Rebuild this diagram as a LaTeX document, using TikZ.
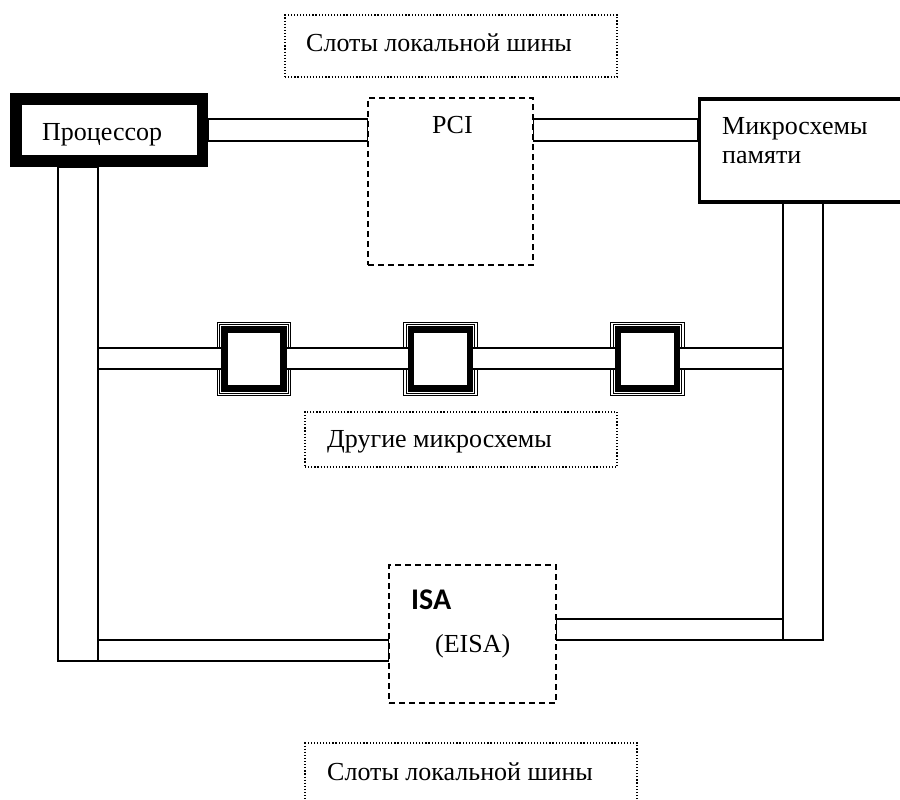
\documentclass[tikz,border=0pt]{standalone}
\usepackage{fontspec}
\setmainfont{Liberation Serif}
\newfontfamily\isafont{Carlito}

\begin{document}
\begin{tikzpicture}[x=1pt,y=-1pt,
        font=\fontsize{26}{31}\selectfont,
        bus/.style={draw,fill=white,line width=1.3pt,inner sep=0pt,outer sep=0pt},
        dashbox/.style={draw,dash pattern=on 6pt off 4pt,line width=1.5pt,inner sep=0pt},
        dotbox/.style={draw,dash pattern=on 1.2pt off 1.9pt,line width=1.6pt,inner sep=0pt},
        chipframe/.style={draw,double,double distance=1.6pt,line width=1pt,minimum size=71pt,inner sep=0pt},
        chipbox/.style={draw,fill=white,line width=6.5pt,minimum size=59pt,inner sep=0pt},
        txt/.style={anchor=base west,inner sep=0pt}]

    \useasboundingbox (0,0) rectangle (900,800);
    \clip (0,0) rectangle (900,800);

    \node[dotbox,minimum width=332pt,minimum height=62pt] (slots) at (451,46) {};
    \node[dotbox,minimum width=312pt,minimum height=55pt] (other) at (461,439.5) {};
    \node[dotbox,minimum width=332pt,minimum height=62pt] (slots2) at (471,774) {};

    \node[draw,fill=white,line width=11.5pt,minimum width=186.5pt,minimum height=62pt,inner sep=0pt] (proc) at (109.25,130) {};
    \node[dashbox,minimum width=165pt,minimum height=167pt] (pci) at (450.5,181.5) {};
    \node[draw,fill=white,line width=3.5pt,minimum width=216pt,minimum height=103pt,inner sep=0pt] (mem) at (807.5,150.5) {};
    \node[dashbox,minimum width=167pt,minimum height=138pt] (isa) at (472.5,634) {};

    % buses
    \node[bus,minimum width=40pt,minimum height=494pt] (lbus) at (78,414) {};
    \node[bus,minimum width=40pt,minimum height=437pt] (rbus) at (803,421.5) {};
    \draw[bus] (proc.east |- 0,119) rectangle (pci.west |- 0,141);
    \draw[bus] (pci.east |- 0,119) rectangle (mem.west |- 0,141);
    \draw[bus] (lbus.east |- 0,640) rectangle (isa.west |- 0,661);
    \draw[bus] (isa.east |- 0,619) rectangle (rbus.west |- 0,640);

    \foreach \cx/\n in {254/1,440.5/2,647.5/3}
        \node[chipframe] (frame\n) at (\cx,359) {};
    \draw[bus] (lbus.east |- 0,348) rectangle (rbus.west |- 0,369);
    \foreach \cx/\n in {254/1,440.5/2,647.5/3}
        \node[chipbox] (chip\n) at (\cx,359) {};

    \node[txt] (tslots) at (306,52) {Слоты локальной шины};
    \node[txt] (tproc) at (42,140) {Процессор};
    \node[txt] (tpci) at (432,133) {PCI};
    \node[txt] (tmem) at (722,134) {Микросхемы};
    \node[txt] (tmem2) at (722,163) {памяти};
    \node[txt] (tother) at (327,447) {Другие микросхемы};
    \node[txt,font=\isafont\bfseries\fontsize{30}{36}\selectfont] (tisa) at (411,609) {ISA};
    \node[txt] (teisa) at (435,652) {(EISA)};
    \node[txt] (tslots2) at (327,780) {Слоты локальной шины};
\end{tikzpicture}
\end{document}
